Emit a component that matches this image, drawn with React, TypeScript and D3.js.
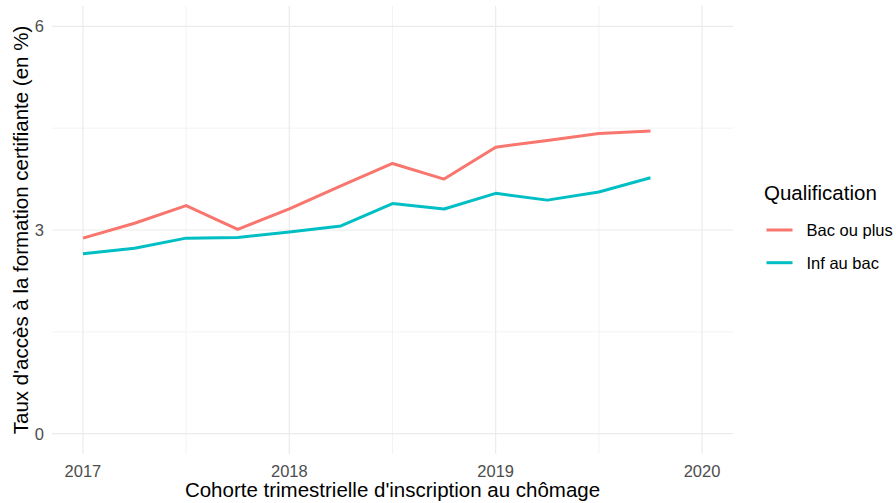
import React, { useRef, useEffect } from "react";
import * as d3 from "d3";

// cohortes trimestrielles (année + trimestre)
const quarters = [2017, 2017.25, 2017.5, 2017.75, 2018, 2018.25, 2018.5, 2018.75, 2019, 2019.25, 2019.5, 2019.75];
const bacOuPlus = [2.88, 3.1, 3.36, 3.01, 3.31, 3.65, 3.98, 3.75, 4.22, 4.32, 4.42, 4.46];
const infAuBac = [2.65, 2.73, 2.88, 2.89, 2.97, 3.06, 3.39, 3.31, 3.54, 3.44, 3.56, 3.77];
const seriesNames = ["Bac ou plus", "Inf au bac"];
const seriesColors = ["#F8766D", "#00BFC4"];
const xTicks = [2017, 2018, 2019, 2020];
const xMinor = [2017.5, 2018.5, 2019.5];
const yTicks = [0, 3, 6];
const yMinor = [1.5, 4.5];

const width = 896;
const height = 503;

const App: React.FC = () => {
  const svgRef = useRef<SVGSVGElement | null>(null);

  useEffect(() => {
    if (!svgRef.current) return;
    const svg = d3.select(svgRef.current);
    svg.selectAll("*").remove();

    const font = "'Liberation Sans', Arial, sans-serif";
    const margin = { top: 6, left: 52, right: 163, bottom: 49 };
    const panelRight = width - margin.right;
    const panelBottom = height - margin.bottom;

    // échelles avec expansion de 5% comme ggplot
    const x = d3.scaleLinear().domain([2016.85, 2020.15]).range([margin.left, panelRight]);
    const y = d3.scaleLinear().domain([-0.3, 6.3]).range([panelBottom, margin.top]);

    svg.append("rect").attr("width", width).attr("height", height).attr("fill", "white");

    const grid = svg.append("g");
    grid.selectAll(".minor-y").data(yMinor).enter().append("line")
      .attr("x1", margin.left).attr("x2", panelRight)
      .attr("y1", (d) => y(d)).attr("y2", (d) => y(d))
      .attr("stroke", "#ebebeb").attr("stroke-width", 0.6);
    grid.selectAll(".minor-x").data(xMinor).enter().append("line")
      .attr("y1", margin.top).attr("y2", panelBottom)
      .attr("x1", (d) => x(d)).attr("x2", (d) => x(d))
      .attr("stroke", "#ebebeb").attr("stroke-width", 0.6);
    grid.selectAll(".major-y").data(yTicks).enter().append("line")
      .attr("x1", margin.left).attr("x2", panelRight)
      .attr("y1", (d) => y(d)).attr("y2", (d) => y(d))
      .attr("stroke", "#ebebeb").attr("stroke-width", 1.2);
    grid.selectAll(".major-x").data(xTicks).enter().append("line")
      .attr("y1", margin.top).attr("y2", panelBottom)
      .attr("x1", (d) => x(d)).attr("x2", (d) => x(d))
      .attr("stroke", "#ebebeb").attr("stroke-width", 1.2);

    // lignes
    const line = d3.line<number>()
      .x((_, i) => x(quarters[i]))
      .y((d) => y(d));

    [bacOuPlus, infAuBac].forEach((s, i) => {
      svg.append("path")
        .datum(s)
        .attr("fill", "none")
        .attr("stroke", seriesColors[i])
        .attr("stroke-width", 3)
        .attr("stroke-linejoin", "round")
        .attr("d", line);
    });

    // étiquettes des axes
    svg.append("g").selectAll("text").data(yTicks).enter().append("text")
      .attr("x", margin.left - 8).attr("y", (d) => y(d) + 6)
      .attr("text-anchor", "end").attr("fill", "#4d4d4d")
      .style("font-family", font).style("font-size", "16.5px")
      .text((d) => d);
    svg.append("g").selectAll("text").data(xTicks).enter().append("text")
      .attr("x", (d) => x(d)).attr("y", 476.5)
      .attr("text-anchor", "middle").attr("fill", "#4d4d4d")
      .style("font-family", font).style("font-size", "16.5px")
      .text((d) => d);

    svg.append("text")
      .attr("x", (margin.left + panelRight) / 2).attr("y", 497)
      .attr("text-anchor", "middle").attr("fill", "black")
      .style("font-family", font).style("font-size", "20.5px")
      .text("Cohorte trimestrielle d'inscription au chômage");

    svg.append("text")
      .attr("transform", `translate(28,${(margin.top + panelBottom) / 2}) rotate(-90)`)
      .attr("text-anchor", "middle").attr("fill", "black")
      .style("font-family", font).style("font-size", "20.5px")
      .text("Taux d'accès à la formation certifiante (en %)");

    // légende
    const legend = svg.append("g").attr("transform", "translate(764,0)");
    legend.append("text")
      .attr("x", 0).attr("y", 200)
      .attr("fill", "black")
      .style("font-family", font).style("font-size", "20.5px")
      .text("Qualification");
    seriesNames.forEach((name, i) => {
      const ly = 230 + i * 32.7;
      legend.append("line")
        .attr("x1", 2.5).attr("x2", 28.5).attr("y1", ly).attr("y2", ly)
        .attr("stroke", seriesColors[i]).attr("stroke-width", 3);
      legend.append("text")
        .attr("x", 42.5).attr("y", ly + 5.8)
        .attr("fill", "black")
        .style("font-family", font).style("font-size", "16.5px")
        .text(name);
    });
  }, []);

  return (
    <svg
      ref={svgRef}
      width={width}
      height={height}
      style={{ position: "absolute", left: 0, top: 0, display: "block" }}
    ></svg>
  );
};

export default App;
